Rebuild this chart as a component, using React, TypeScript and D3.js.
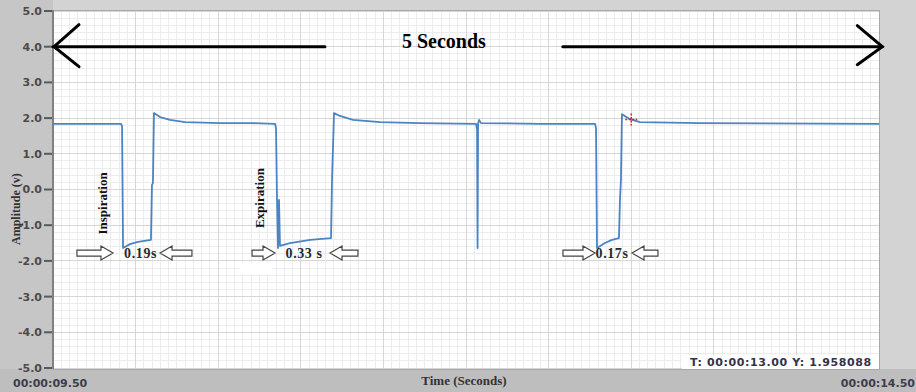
import React from 'react';
import * as d3 from 'd3';

// signal trace (time in s, amplitude in v)
const times = [
  9.5, 9.912, 9.918, 9.924, 9.966, 10.015, 10.093, 10.099, 10.105, 10.111, 10.148, 10.208, 10.299, 10.511, 10.693,
  10.844, 10.85, 10.856, 10.862, 10.868, 10.874, 10.935, 11.056, 11.183, 11.189, 11.201, 11.237, 11.316, 11.479,
  11.722, 12.061, 12.067, 12.07, 12.073, 12.079, 12.091, 12.448, 12.781, 12.787, 12.793, 12.841, 12.884, 12.926,
  12.932, 12.938, 12.944, 12.993, 13.053, 13.416, 14.5,
];
const amplitudes = [
  1.84, 1.84, 1.78, -1.64, -1.53, -1.47, -1.41, 0.13, 0.18, 2.14, 2.03, 1.95, 1.89, 1.86, 1.86,
  1.84, 1.72, -0.29, -1.64, -0.29, -1.58, -1.5, -1.41, -1.36, 0.27, 2.14, 2.06, 1.95, 1.89,
  1.86, 1.84, 1.67, -1.64, 1.84, 1.95, 1.86, 1.84, 1.84, 1.72, -1.64, -1.5, -1.41, -1.36,
  -0.29, 0.27, 2.11, 1.97, 1.89, 1.86, 1.84,
];

const yTicks = [5, 4, 3, 2, 1, 0, -1, -2, -3, -4, -5];
const startLabel = '00:00:09.50';
const endLabel = '00:00:14.50';
const cursorT = 13.0;
const cursorY = 1.958088;
const cursorLabel = 'T: 00:00:13.00 Y: 1.958088';

// duration markers under each breath
const durLabels = ['0.19s', '0.33 s', '0.17s'];
const durTextT = [10.03, 11.02, 12.884];
const durRightFrom = [9.645, 10.705, 12.587];
const durRightTo = [9.863, 10.844, 12.781];
const durLeftFrom = [10.148, 11.177, 13.005];
const durLeftTo = [10.341, 11.346, 13.162];
const durLevel = -1.78;

const phaseLabels = ['Inspiration', 'Expiration'];
const phaseT = [9.804, 10.755];
const phaseY = [-0.39, -0.24];

const spanLabel = '5 Seconds';
const spanFrom = 9.5;
const spanTo = 14.52;
const spanGapFrom = 11.146;
const spanGapTo = 12.586;
const spanLevel = 4.0;

const W = 916, H = 392;
const left = 53, right = 879, top = 10, bottom = 369;

const serif = '"Liberation Serif", "Times New Roman", serif';
const sans = '"DejaVu Sans", Verdana, sans-serif';

function hollowArrow(x0: number, x1: number, yc: number, dir: 'r' | 'l') {
  const head = 12, sh = 3, hh = 7;
  if (dir === 'r') {
    const hx = x1 - head;
    return `M${x0},${yc - sh}L${hx},${yc - sh}L${hx},${yc - hh}L${x1},${yc}L${hx},${yc + hh}L${hx},${yc + sh}L${x0},${yc + sh}Z`;
  }
  const hx = x0 + head;
  return `M${x1},${yc - sh}L${hx},${yc - sh}L${hx},${yc - hh}L${x0},${yc}L${hx},${yc + hh}L${hx},${yc + sh}L${x1},${yc + sh}Z`;
}

export default function App() {
  const x = d3.scaleLinear().domain([9.5, 14.5]).range([left, right]);
  const y = d3.scaleLinear().domain([-5, 5]).range([368, 11]);

  const minorX = d3.range(9.5, 14.5001, 0.05);
  const majorX = d3.range(9.5, 14.5001, 0.5);
  const minorY = d3.range(-5, 5.001, 0.2);

  const pts = times.map((t, i) => [t, amplitudes[i]] as [number, number]);
  const line = d3.line<[number, number]>().x(d => x(d[0])).y(d => y(d[1]));

  const sy = y(spanLevel);
  const cx = x(cursorT), cy = y(cursorY);

  return (
    <div style={{ position: 'fixed', left: 0, top: 0 }}>
      <svg width={W} height={H} style={{ display: 'block' }}>
        {/* frame backgrounds */}
        <rect x={0} y={0} width={W} height={H} fill="#d3d3d3" />
        <rect x={0} y={0} width={left} height={H} fill="#c6c6c6" />
        <rect x={0} y={bottom} width={W} height={H - bottom} fill="#bebebe" />
        <rect x={left} y={top} width={right - left} height={bottom - top} fill="#ffffff" />

        {/* grid */}
        <g shapeRendering="crispEdges">
          {minorX.map((t, i) => (
            <line key={'mx' + i} x1={x(t)} x2={x(t)} y1={top} y2={bottom} stroke="#ececec" />
          ))}
          {minorY.map((v, i) => (
            <line key={'my' + i} x1={left} x2={right} y1={y(v)} y2={y(v)} stroke="#ececec" />
          ))}
          {majorX.map((t, i) => (
            <line key={'Mx' + i} x1={x(t)} x2={x(t)} y1={top} y2={bottom} stroke="#d6d6d6" />
          ))}
          {yTicks.map((v, i) => (
            <line key={'My' + i} x1={left} x2={right} y1={y(v)} y2={y(v)} stroke="#d6d6d6" />
          ))}
          <rect x={left} y={top} width={right - left} height={bottom - top} fill="none" stroke="#a8a8a8" />
          <line x1={left} x2={left} y1={top} y2={bottom} stroke="#808080" strokeWidth={2} />
        </g>

        {/* y axis */}
        {yTicks.map((v, i) => (
          <g key={'t' + i}>
            <line x1={44} x2={52} y1={y(v)} y2={y(v)} stroke="#5a5a5a" strokeWidth={2} />
            <text x={42} y={y(v)} dy="0.36em" textAnchor="end" fontFamily={sans} fontWeight="bold" fontSize={11} fill="#4f4a48">
              {v.toFixed(1)}
            </text>
          </g>
        ))}
        <text transform={`translate(16,${y(-0.55)}) rotate(-90)`} textAnchor="middle" dy="0.35em" fontFamily={serif} fontWeight="bold" fontSize={12} fill="#333">
          Amplitude (v)
        </text>

        {/* x axis labels */}
        <text x={13} y={387} fontFamily={sans} fontWeight="bold" fontSize={11} fill="#3d3d4d">{startLabel}</text>
        <text x={W - 1} y={387} textAnchor="end" fontFamily={sans} fontWeight="bold" fontSize={11} fill="#3d3d4d">{endLabel}</text>
        <text x={x(12.0) - 2} y={385} textAnchor="middle" fontFamily={serif} fontWeight="bold" fontSize={13} fill="#333">
          Time (Seconds)
        </text>

        {/* cursor readout */}
        <rect x={682} y={355} width={right - 682} height={bottom - 355} fill="#ffffff" />
        <text x={690} y={366} fontFamily={sans} fontWeight="bold" fontSize={11} letterSpacing={0.6} fill="#33334a">{cursorLabel}</text>

        {/* signal */}
        <path d={line(pts) ?? ''} fill="none" stroke="#4a84c4" strokeWidth={1.8} strokeLinejoin="round" />

        {/* cursor cross */}
        <g stroke="#e02020" strokeWidth={1.5} strokeDasharray="2,1.5">
          <line x1={cx - 6} x2={cx + 6} y1={cy} y2={cy} />
          <line x1={cx} x2={cx} y1={cy - 6} y2={cy + 6} />
        </g>

        {/* 5 seconds span arrow */}
        <g stroke="#000" strokeWidth={3} fill="none" strokeLinecap="round">
          <line x1={x(spanFrom)} x2={x(spanGapFrom)} y1={sy} y2={sy} />
          <line x1={x(spanGapTo)} x2={x(spanTo)} y1={sy} y2={sy} />
          <path d={`M${x(spanFrom) + 26},${sy - 22}L${x(spanFrom) + 1},${sy}L${x(spanFrom) + 26},${sy + 20}`} />
          <path d={`M${x(spanTo) - 25},${sy - 21}L${x(spanTo)},${sy}L${x(spanTo) - 25},${sy + 18}`} />
        </g>
        <text x={(x(spanGapFrom) + x(spanGapTo)) / 2} y={48} textAnchor="middle" fontFamily={serif} fontWeight="bold" fontSize={20} fill="#000">
          {spanLabel}
        </text>

        {/* phase labels */}
        {phaseLabels.map((s, i) => (
          <text key={s} transform={`translate(${x(phaseT[i])},${y(phaseY[i])}) rotate(-90)`} textAnchor="middle" dy="0.3em"
            fontFamily={serif} fontWeight="bold" fontSize={13} fill="#111">
            {s}
          </text>
        ))}

        {/* duration markers */}
        <rect x={240} y={263} width={32} height={11} fill="#ffffff" />
        {durLabels.map((s, i) => {
          const yc = y(durLevel);
          return (
            <g key={s}>
              <path d={hollowArrow(x(durRightFrom[i]), x(durRightTo[i]), yc, 'r')} fill="#fff" stroke="#444" strokeWidth={1.2} />
              <path d={hollowArrow(x(durLeftFrom[i]), x(durLeftTo[i]), yc, 'l')} fill="#fff" stroke="#444" strokeWidth={1.2} />
              <text x={x(durTextT[i])} y={yc + 5} textAnchor="middle" fontFamily={serif} fontWeight="bold" fontSize={14}
                letterSpacing={0.6} fill="#2a2a2a">
                {s}
              </text>
            </g>
          );
        })}
      </svg>
    </div>
  );
}
